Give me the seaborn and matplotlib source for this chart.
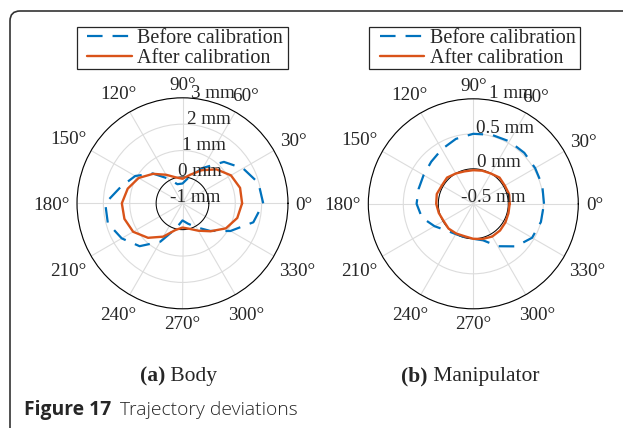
import numpy as np
import pandas as pd
import seaborn as sns
import matplotlib
matplotlib.use("Agg")
import matplotlib.pyplot as plt
from matplotlib.patches import FancyBboxPatch, Rectangle

# ---------------- data ----------------
angles_deg = [0, 15, 30, 45, 60, 75, 90, 105, 120, 135, 150, 165,
              180, 195, 210, 225, 240, 255, 270, 285, 300, 315, 330, 345]

# (a) Body, deviation in mm
body_before = [2.06, 1.98, 1.65, 1.22, 0.55, 0.05, -0.25, -0.25, 0.08, 0.60, 1.07, 1.42,
               1.93, 1.93, 1.66, 1.30, 0.68, 0.00, -0.35, -0.20, 0.05, 0.48, 1.10, 1.78]
body_after = [1.26, 1.26, 1.12, 0.82, 0.45, 0.12, -0.07, 0.02, 0.25, 0.58, 0.92, 1.15,
              1.30, 1.28, 1.16, 0.85, 0.46, 0.05, -0.08, 0.00, 0.20, 0.50, 0.90, 1.15]

# (b) Manipulator, deviation in mm
manip_before = [0.51, 0.52, 0.52, 0.53, 0.53, 0.52, 0.50, 0.46, 0.40, 0.35, 0.32, 0.31,
                0.31, 0.26, 0.14, 0.04, 0.00, -0.01, 0.00, 0.04, 0.20, 0.36, 0.47, 0.50]
manip_after = [0.02, 0.03, 0.02, 0.03, 0.00, -0.01, -0.02, -0.02, 0.00, 0.03, 0.02, 0.04,
               0.03, 0.01, -0.01, 0.00, -0.01, -0.02, 0.00, 0.02, 0.04, 0.04, 0.03, 0.02]

theta_ticks = [0, 30, 60, 90, 120, 150, 180, 210, 240, 270, 300, 330]
theta_labels = ["0°", "30°", "60°", "90°", "120°", "150°", "180°", "210°",
                "240°", "270°", "300°", "330°"]

body_rticks = [-1, 0, 1, 2, 3]
body_rlabels = ["-1 mm", "0 mm", "1 mm", "2 mm", "3 mm"]
manip_rticks = [-0.5, 0, 0.5, 1]
manip_rlabels = ["-0.5 mm", "0 mm", "0.5 mm", "1 mm"]

series_names = ["Before calibration", "After calibration"]
panel_titles = [("(a)", " Body"), ("(b)", " Manipulator")]
caption_bold = "Figure 17"
caption_text = "Trajectory deviations"

# ---------------- style ----------------
BLUE = "#0072BD"
ORANGE = "#D95319"
W, H = 623, 428
FS = 13.8
LFS = 14.5
THETA_PAD = 7.5     # px gap between circle and label box
TXT_H = 13.0        # visual text height used for the gap
TXT_DY = -2.0       # visual centring of digits

sns.set_theme(style="white")
plt.rcParams["font.family"] = ["Liberation Serif", "DejaVu Serif"]

fig = plt.figure(figsize=(W / 100, H / 100), dpi=100)
fig.patch.set_facecolor("white")

# frame with rounded top-left corner
frame = FancyBboxPatch((10, -40), 800, 428 - 11 + 40,
                       boxstyle="round,pad=0,rounding_size=10",
                       transform=None, fill=False, edgecolor="#333333", lw=1.2)
fig.patches.append(frame)

ax_boxes = [(77 / W, (H - 308.8) / H, 211 / W, 211 / H),
            (368.3 / W, (H - 308.8) / H, 210 / W, 210 / H)]
legend_boxes = [(76.7, 27.3, 211, 42), (369.3, 27.3, 211, 42)]  # x, y(top), w, h in px
label_offsets = [(12.5, 6.0), (19.5, 6.5)]

data = [(body_before, body_after, body_rticks, body_rlabels),
        (manip_before, manip_after, manip_rticks, manip_rlabels)]

theta_texts = []
for i in range(2):
    ax = fig.add_axes(ax_boxes[i], projection="polar")
    b, a, rt, rl = data[i]
    th = np.deg2rad(angles_deg + [360])
    df = pd.DataFrame({"theta": th, "before": b + [b[0]], "after": a + [a[0]]})
    # zero reference circle
    circ = np.linspace(0, 2 * np.pi, 361)
    ax.plot(circ, np.zeros_like(circ), color="black", lw=0.7, zorder=2)
    sns.lineplot(data=df, x="theta", y="before", ax=ax, sort=False, estimator=None,
                 color=BLUE, lw=1.6, linestyle=(0, (7, 4.5)),
                 label=series_names[0], zorder=3)
    sns.lineplot(data=df, x="theta", y="after", ax=ax, sort=False, estimator=None,
                 color=ORANGE, lw=1.7, label=series_names[1], zorder=4)
    ax.set_ylim(rt[0], rt[-1])
    ax.set_xticks(np.deg2rad(theta_ticks))
    ax.set_xticklabels([])
    ax.set_yticks(rt)
    ax.set_yticklabels([])
    ax.set_xlabel("")
    ax.set_ylabel("")
    ax.grid(True, color="#dcdcdc", lw=0.8)
    ax.spines["polar"].set_color("black")
    ax.spines["polar"].set_linewidth(0.8)
    # angle labels, placed outside the rim
    for tdeg, lab in zip(theta_ticks, theta_labels):
        t = ax.annotate(lab, xy=(np.deg2rad(tdeg), rt[-1]), xytext=(0, 0),
                        textcoords="offset pixels", ha="center", va="center",
                        fontsize=FS, annotation_clip=False)
        theta_texts.append((t, tdeg))
    # radial labels along 80 deg
    off = label_offsets[i]
    for r, lab in zip(rt, rl):
        ax.annotate(lab, xy=(np.deg2rad(80), r), xytext=off, textcoords="offset pixels",
                    ha="center", va="center", fontsize=FS, annotation_clip=False, zorder=5)
    # legend frame + legend content inside it (handle starts ~10.6 px in)
    x, y, w, h = legend_boxes[i]
    fig.patches.append(Rectangle((x, H - y - h), w, h, transform=None, fill=False,
                                 edgecolor="#262626", lw=0.9))
    bb = ((x + 10.6) / W, (H - y - h / 2 - 0.5) / H, (w - 12) / W, 0.001)
    ax.legend(loc="center left", bbox_to_anchor=bb, bbox_transform=fig.transFigure,
              borderaxespad=0, fontsize=LFS, frameon=False,
              handlelength=2.2, handletextpad=0.28, borderpad=0.0, labelspacing=0.02)

fig.canvas.draw()
renderer = fig.canvas.get_renderer()

for t, tdeg in theta_texts:
    wpx = t.get_window_extent(renderer).width
    c, s = np.cos(np.deg2rad(tdeg)), np.sin(np.deg2rad(tdeg))
    d = THETA_PAD + abs(c) * wpx / 2 + abs(s) * TXT_H / 2
    t.xyann = (d * c, d * s + TXT_DY)


def two_part(x_px, y_px, bold, normal, size, family, center=True, gap=0, weight2="normal"):
    t1 = fig.text(0, 0, bold, fontsize=size, fontweight="bold", family=family,
                  va="center", ha="left", transform=None)
    t2 = fig.text(0, 0, normal, fontsize=size, family=family, fontweight=weight2,
                  va="center", ha="left", transform=None)
    w1 = t1.get_window_extent(renderer).width
    w2 = t2.get_window_extent(renderer).width
    total = w1 + gap + w2
    x0 = x_px - total / 2 if center else x_px
    y = H - y_px
    t1.set_position((x0, y))
    t2.set_position((x0 + w1 + gap, y))


two_part(178.3, 376.7, panel_titles[0][0], panel_titles[0][1], 15.5,
         ["Liberation Serif", "DejaVu Serif"])
two_part(470, 376.7, panel_titles[1][0], panel_titles[1][1], 15.5,
         ["Liberation Serif", "DejaVu Serif"])
two_part(24, 410, caption_bold, caption_text, 13.9, ["Open Sans", "DejaVu Sans"],
         center=False, gap=9, weight2="light")

fig.savefig("out.png", dpi=100)
